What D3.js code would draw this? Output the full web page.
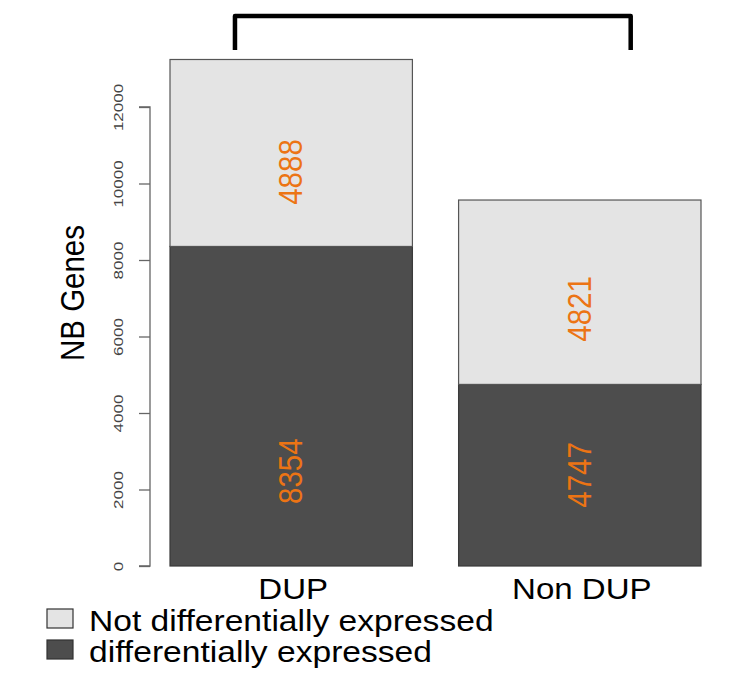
<!DOCTYPE html>
<html>
<head>
<meta charset="utf-8">
<script src="https://cdn.jsdelivr.net/npm/d3@7"></script>
<style>
  html, body { margin: 0; padding: 0; background: #fff; }
  svg { display: block; font-family: "Liberation Sans", Arial, Helvetica, sans-serif; }
</style>
</head>
<body>
<svg id="chart" width="734" height="676"></svg>
<script>
// ---- data ----
const categories = ["DUP", "Non DUP"];
const diffExpressed = [8354, 4747];      // bottom segment
const notDiffExpressed = [4888, 4821];   // top segment
const yTicks = [0, 2000, 4000, 6000, 8000, 10000, 12000];
const seriesNames = ["Not differentially expressed", "differentially expressed"];
const yLabel = "NB Genes";

// ---- styling/layout ----
const colLight = "#e4e4e4", colDark = "#4d4d4d", colText = "#ec7414";
const svg = d3.select("#chart");
const x = d3.scaleBand().domain(categories).range([170, 701]).paddingInner(0.16).paddingOuter(0);
const y = d3.scaleLinear().domain([0, 12000]).range([566, 107]);
const SX = 1.12; // horizontal stretch seen in reference text

// bars
const stacked = categories.map((c, i) => ({
  cat: c, low: diffExpressed[i], high: notDiffExpressed[i]
}));
const g = svg.append("g");
stacked.forEach(d => {
  g.append("rect")
    .attr("x", x(d.cat)).attr("width", x.bandwidth())
    .attr("y", y(d.low)).attr("height", y(0) - y(d.low))
    .attr("fill", colDark).attr("stroke", "#3a3a3a").attr("stroke-width", 1.2);
  g.append("rect")
    .attr("x", x(d.cat)).attr("width", x.bandwidth())
    .attr("y", y(d.low + d.high)).attr("height", y(d.low) - y(d.low + d.high))
    .attr("fill", colLight).attr("stroke", "#555").attr("stroke-width", 1.2);
});

// value labels (rotated), positions in data space
const labelAtLow = [2480, 2380];
const labelAtHigh = [10300, 6720];
stacked.forEach((d, i) => {
  const cx = x(d.cat) + x.bandwidth() / 2;
  [[d.low, labelAtLow[i]], [d.high, labelAtHigh[i]]].forEach(([v, pos]) => {
    svg.append("text")
      .attr("transform", `translate(${cx + 11},${y(pos)}) rotate(-90) scale(1,${SX})`)
      .attr("text-anchor", "middle")
      .attr("font-size", 29.5)
      .attr("fill", colText)
      .text(v);
  });
});

// y axis
const axis = d3.axisLeft(y).tickValues(yTicks).tickSize(11).tickFormat(d3.format("d"));
const ag = svg.append("g").attr("transform", "translate(150,0)").call(axis);
ag.select(".domain").attr("stroke", "#666").attr("stroke-width", 1.3)
  .attr("d", `M-11,${y(12000)}H0V${y(0)}H-11`);
ag.selectAll(".tick line").attr("stroke", "#666").attr("stroke-width", 1.3);
ag.selectAll(".tick text")
  .attr("x", null).attr("dy", null)
  .attr("transform", "translate(-27,0) rotate(-90) scale(1,0.8)")
  .attr("text-anchor", "middle")
  .attr("font-size", 17)
  .attr("fill", "#444")
  .attr("font-family", "Liberation Sans, Arial, sans-serif");

// y label
svg.append("text")
  .attr("transform", `translate(84,293) rotate(-90) scale(1,${SX})`)
  .attr("text-anchor", "middle").attr("font-size", 29.5).attr("fill", "#000")
  .text(yLabel);

// category labels
categories.forEach(c => {
  svg.append("text")
    .attr("transform", `translate(${x(c) + x.bandwidth() / 2 + 2},599) scale(${SX},1)`)
    .attr("text-anchor", "middle").attr("font-size", 29.5).attr("fill", "#000")
    .text(c);
});

// bracket
const bl = x("DUP") + x.bandwidth() * 0.268;
const br = x("Non DUP") + x.bandwidth() * 0.71;
svg.append("path")
  .attr("d", `M${bl},50V16H${br}V50`)
  .attr("fill", "none").attr("stroke", "#000").attr("stroke-width", 4.5)
  .attr("stroke-linejoin", "round");

// legend
const legCols = [colLight, colDark];
seriesNames.forEach((n, i) => {
  const yy = 609 + i * 31;
  svg.append("rect").attr("x", 47).attr("y", yy).attr("width", 26).attr("height", 19)
    .attr("fill", legCols[i]).attr("stroke", "#333").attr("stroke-width", 1.2);
  svg.append("text")
    .attr("transform", `translate(89,${yy + 22}) scale(${SX},1)`)
    .attr("font-size", 30).attr("fill", "#000").text(n);
});
</script>
</body>
</html>
